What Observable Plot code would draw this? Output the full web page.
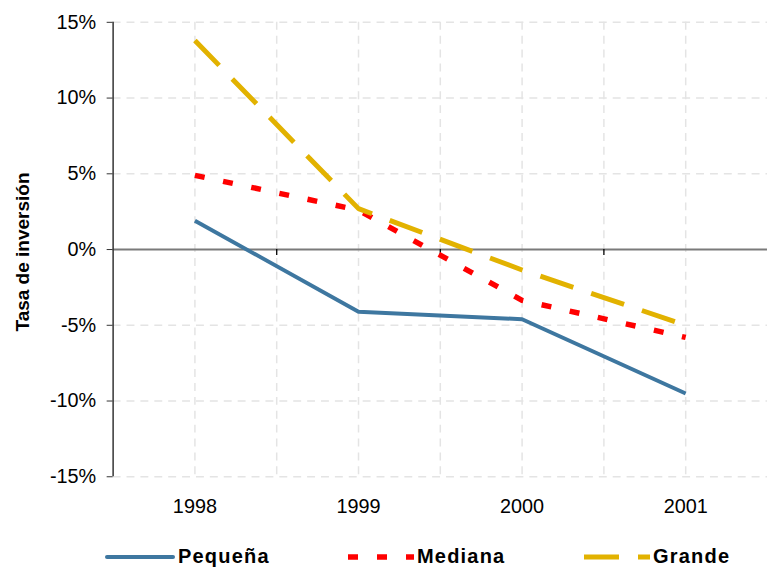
<!DOCTYPE html>
<html>
<head>
<meta charset="utf-8">
<script src="https://cdn.jsdelivr.net/npm/d3@7"></script>
<script src="https://cdn.jsdelivr.net/npm/@observablehq/plot@0.6"></script>
<style>
  html, body { margin: 0; padding: 0; background: #fff; overflow: hidden; width: 767px; height: 572px; }
  body { font-family: "Liberation Sans", Arial, sans-serif; position: relative; }
  #chart svg { display: block; }
  #legend { position: relative; height: 42px; width: 767px; }
  .item { position: absolute; top: 0; left: 0; width: 767px; height: 42px; }
  .item svg { position: absolute; top: 0; left: 0; }
  .item span { position: absolute; top: 20px; font-weight: bold; font-size: 20px; letter-spacing: 1.2px; color: #000; white-space: nowrap; line-height: 20px; }
  #ylabel { position: absolute; left: 23px; top: 252px; transform: translate(-50%, -50%) rotate(-90deg); font-weight: bold; font-size: 19px; white-space: nowrap; color: #000; }
</style>
</head>
<body>
<div id="chart"></div>
<div id="legend"></div>
<div id="ylabel"></div>
<script>
const years = [1998, 1999, 2000, 2001];
const seriesNames = ["Pequeña", "Mediana", "Grande"];
const pequena = [1.9, -4.1, -4.6, -9.5];
const mediana = [4.9, 2.6, -3.35, -5.8];
const grande = [13.8, 2.7, -1.35, -5.0];
const yTicks = [-15, -10, -5, 0, 5, 10, 15];
const yLabel = "Tasa de inversión";

const colors = ["#3e77a0", "#ff0000", "#e2b200"];
const dashes = [null, "10,19", "35,19"];
const widths = [4, 5.5, 5];
const valuesBySeries = [pequena, mediana, grande];

const rows = seriesNames.map((name, s) =>
  years.map((yr, i) => ({serie: name, year: yr, value: valuesBySeries[s][i]}))
);

const half = d3.range(years[0], years[years.length - 1] + 0.01, 0.5);
const bounds = years.slice(0, -1).map(y => y + 0.5);

const gridColor = "#e4e4e4";

const chart = Plot.plot({
  width: 773,
  height: 530,
  marginLeft: 113.5,
  marginRight: 0,
  marginTop: 22,
  marginBottom: 50,
  style: {fontFamily: "Liberation Sans, Arial, sans-serif", fontSize: "20px", background: "#fff", color: "#000", overflow: "hidden"},
  x: {domain: [years[0] - 0.5, years[years.length - 1] + 0.5]},
  y: {domain: [yTicks[0], yTicks[yTicks.length - 1]]},
  marks: [
    Plot.ruleY(yTicks.filter(d => d !== 0), {stroke: gridColor, strokeWidth: 1.5, strokeDasharray: "8,6"}),
    Plot.ruleX(half, {stroke: gridColor, strokeWidth: 1.5, strokeDasharray: "8,6"}),
    Plot.ruleY([0], {stroke: "#7a7a7a", strokeWidth: 2}),
    Plot.ruleX(bounds, {y1: 0, y2: 0, insetBottom: -6, stroke: "#000", strokeWidth: 1.3}),
    Plot.ruleX([years[0] - 0.5], {stroke: "#333", strokeWidth: 1.5}),
    Plot.axisY({ticks: yTicks, tickFormat: d => d + "%", tickSize: 6, tickPadding: 11, label: null, fontSize: 20, stroke: "#333"}),
    Plot.axisX({ticks: years, tickFormat: d => String(d), tickSize: 0, tickPadding: 22, label: null, fontSize: 20}),
    ...rows.map((data, s) => Plot.line(data, {
      x: "year", y: "value", stroke: colors[s], strokeWidth: widths[s],
      strokeDasharray: dashes[s], strokeLinecap: "butt", strokeLinejoin: "round"
    }))
  ]
});
document.getElementById("chart").appendChild(chart);
document.getElementById("ylabel").textContent = yLabel;

// Legend
const legendPos = [{line: 107, text: 178}, {line: 348, text: 417}, {line: 584, text: 653}];
const legend = document.getElementById("legend");
seriesNames.forEach((name, s) => {
  const item = document.createElement("div");
  item.className = "item";
  const svg = d3.create("svg").attr("width", 767).attr("height", 42);
  svg.append("line")
    .attr("x1", legendPos[s].line).attr("x2", legendPos[s].line + 66)
    .attr("y1", 31).attr("y2", 31)
    .attr("stroke", colors[s]).attr("stroke-width", widths[s])
    .attr("stroke-linecap", s === 0 ? "round" : "butt")
    .attr("stroke-dasharray", dashes[s]);
  item.appendChild(svg.node());
  const span = document.createElement("span");
  span.textContent = name;
  span.style.left = legendPos[s].text + "px";
  item.appendChild(span);
  legend.appendChild(item);
});
</script>
</body>
</html>
